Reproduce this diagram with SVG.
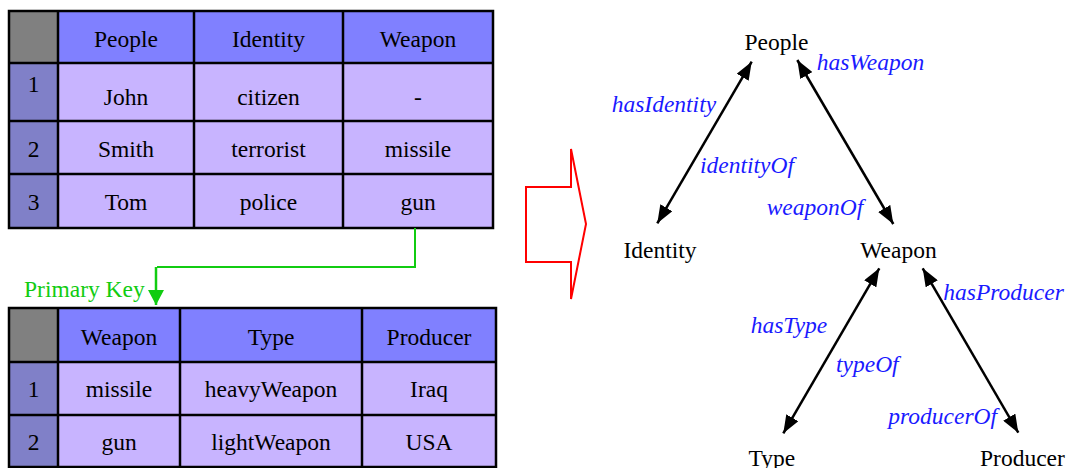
<svg xmlns="http://www.w3.org/2000/svg" width="1068" height="468" viewBox="0 0 1068 468" font-family="'Liberation Serif', 'DejaVu Serif', serif">
<style>
  text { font-family: "Liberation Serif", "DejaVu Serif", serif; font-size: 23.5px; fill: #000; }
  .c { text-anchor: middle; }
  .lbl { font-style: italic; fill: #1a1aff; }
  .g { fill: #808080; }
  .h { fill: #8080ff; }
  .n { fill: #8080c8; }
  .b { fill: #c8b4ff; }
  .grid { stroke: #000; stroke-width: 2.5; fill: none; }
  .edge { stroke: #000; stroke-width: 2.5; fill: none; marker-start: url(#ah); marker-end: url(#ah); }
</style>
<defs>
  <marker id="ah" viewBox="0 0 18 14" refX="18" refY="7" markerWidth="18" markerHeight="14" markerUnits="userSpaceOnUse" orient="auto-start-reverse">
    <path d="M0,0 L18,7 L0,14 z" fill="#000"/>
  </marker>
  <marker id="gh" viewBox="0 0 16 16" refX="15" refY="8" markerWidth="16" markerHeight="16" markerUnits="userSpaceOnUse" orient="auto">
    <path d="M0,0 L15,8 L0,16 z" fill="#11cc11"/>
  </marker>
</defs>
<rect width="1068" height="468" fill="#fff"/>

<g id="table-people">
  <rect class="g" x="9" y="11" width="49" height="52"/>
  <rect class="h" x="58" y="11" width="435" height="52"/>
  <rect class="n" x="9" y="63" width="49" height="165"/>
  <rect class="b" x="58" y="63" width="435" height="165"/>
  <path class="grid" d="M9,11 H493 V228 H9 Z M9,63 H493 M9,121 H493 M9,174 H493 M58,11 V228 M194,11 V228 M343,11 V228"/>
  <text class="c" x="126" y="47">People</text>
  <text class="c" x="268.5" y="47">Identity</text>
  <text class="c" x="418" y="47">Weapon</text>
  <text class="c" x="33.5" y="92">1</text>
  <text class="c" x="126" y="105">John</text>
  <text class="c" x="268.5" y="105">citizen</text>
  <text class="c" x="418" y="105">-</text>
  <text class="c" x="33.5" y="157">2</text>
  <text class="c" x="126" y="157">Smith</text>
  <text class="c" x="268.5" y="157">terrorist</text>
  <text class="c" x="418" y="157">missile</text>
  <text class="c" x="33.5" y="210">3</text>
  <text class="c" x="126" y="210">Tom</text>
  <text class="c" x="268.5" y="210">police</text>
  <text class="c" x="418" y="210">gun</text>
</g>

<g id="table-weapon">
  <rect class="g" x="9" y="308" width="49" height="54"/>
  <rect class="h" x="58" y="308" width="438" height="54"/>
  <rect class="n" x="9" y="362" width="49" height="108"/>
  <rect class="b" x="58" y="362" width="438" height="108"/>
  <path class="grid" d="M9,470 V308 H496 V470 M9,467 H496 M9,362 H496 M9,415 H496 M58,308 V470 M180,308 V470 M362,308 V470"/>
  <text class="c" x="119" y="345">Weapon</text>
  <text class="c" x="271" y="345">Type</text>
  <text class="c" x="429" y="345">Producer</text>
  <text class="c" x="33.5" y="397">1</text>
  <text class="c" x="119" y="397">missile</text>
  <text class="c" x="271" y="397">heavyWeapon</text>
  <text class="c" x="429" y="397">Iraq</text>
  <text class="c" x="33.5" y="450">2</text>
  <text class="c" x="119" y="450">gun</text>
  <text class="c" x="271" y="450">lightWeapon</text>
  <text class="c" x="429" y="450">USA</text>
</g>

<g id="primary-key">
  <text x="24" y="297" style="fill:#11cc11">Primary Key</text>
</g>

<g id="transform-arrow">
  <polygon points="526,187 571,187 571,149 586,224 571,299 571,262 526,262" fill="none" stroke="#ff0000" stroke-width="2"/>
</g>

<g id="node-people"><text class="c" x="776.5" y="50">People</text></g>
<g id="node-identity"><text class="c" x="660" y="258">Identity</text></g>
<g id="node-weapon"><text class="c" x="898.5" y="258">Weapon</text></g>
<g id="node-type"><text x="748.5" y="466">Type</text></g>
<g id="node-producer"><text x="980" y="466">Producer</text></g>

<g id="connectors">
  <path d="M415,228 V267 H157" fill="none" stroke="#11cc11" stroke-width="2"/>
  <path d="M156,267 V305" fill="none" stroke="#11cc11" stroke-width="2.5" marker-end="url(#gh)"/>
  <line class="edge" x1="751.7" y1="61.7" x2="657.3" y2="223.3"/>
  <line class="edge" x1="797.3" y1="60" x2="893.3" y2="224"/>
  <line class="edge" x1="879.3" y1="268.3" x2="783.3" y2="433.3"/>
  <line class="edge" x1="922.7" y1="268.3" x2="1018.3" y2="432.7"/>
  <text class="lbl" x="611.7" y="112">hasIdentity</text>
  <text class="lbl" x="816.7" y="70">hasWeapon</text>
  <text class="lbl" x="700" y="173">identityOf</text>
  <text class="lbl" x="766.7" y="215">weaponOf</text>
  <text class="lbl" x="750.7" y="333">hasType</text>
  <text class="lbl" x="943.3" y="299.5">hasProducer</text>
  <text class="lbl" x="836" y="372">typeOf</text>
  <text class="lbl" x="888.3" y="423.5">producerOf</text>
</g>
</svg>
